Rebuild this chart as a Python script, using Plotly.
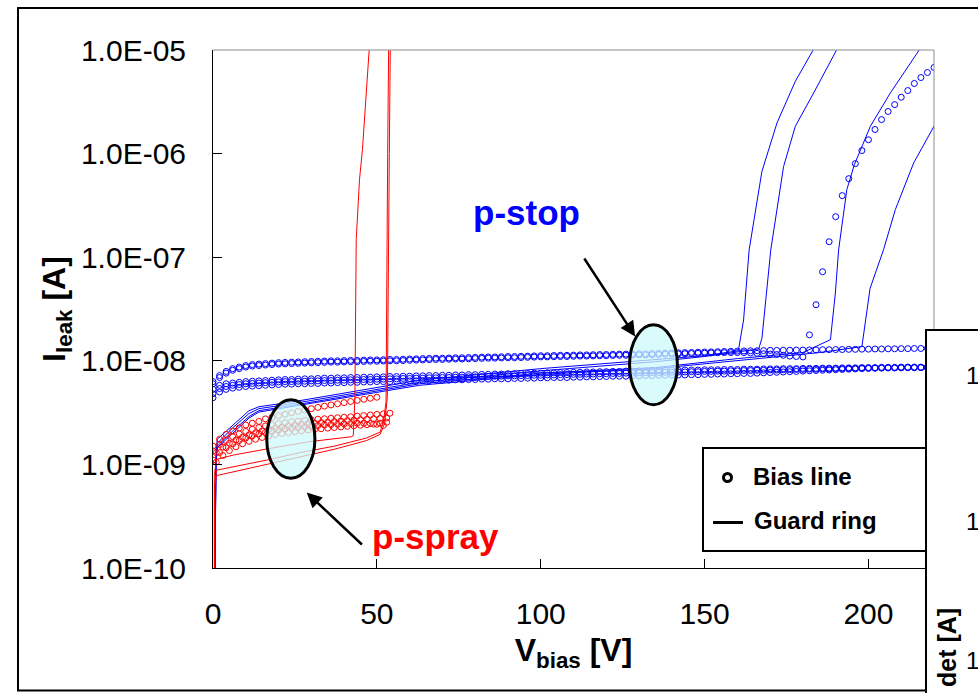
import plotly.graph_objects as go

# ---------------- data ----------------
X_TICKS = [0, 50, 100, 150, 200]
Y_TICKS = [1e-10, 1e-9, 1e-8, 1e-7, 1e-6, 1e-5]
Y_TICK_LABELS = ["1.0E-10", "1.0E-09", "1.0E-08", "1.0E-07", "1.0E-06", "1.0E-05"]

# p-stop bias-line currents (nA), measured every 2 V from 0 to 220 V
V_PSTOP = list(range(0, 221, 2))
PSTOP_BIAS_1 = [6.3, 7.2, 7.9, 8.4, 8.7, 9.0, 9.2, 9.3, 9.4, 9.5,
                9.6, 9.65, 9.7, 9.75, 9.8, 9.85, 9.9, 9.95, 10.0, 10.0,
                10.05, 10.1, 10.1, 10.15, 10.2, 10.2, 10.25, 10.3, 10.3, 10.35,
                10.4, 10.45, 10.5, 10.55, 10.6, 10.6, 10.65, 10.7, 10.7, 10.75,
                10.8, 10.85, 10.9, 10.9, 10.95, 11.0, 11.0, 11.05, 11.1, 11.15,
                11.2, 11.2, 11.25, 11.3, 11.3, 11.35, 11.4, 11.4, 11.45, 11.5,
                11.5, 11.55, 11.6, 11.6, 11.65, 11.7, 11.7, 11.75, 11.8, 11.85,
                11.9, 11.95, 12.0, 12.05, 12.1, 12.15, 12.2, 12.25, 12.3, 12.35,
                12.4, 12.45, 12.5, 12.5, 12.55, 12.6, 12.6, 12.65, 12.65, 12.7,
                12.7, 12.75, 12.75, 12.8, 12.8, 12.85, 12.85, 12.9, 12.9, 12.95,
                12.95, 13.0, 13.0, 13.05, 13.05, 13.1, 13.1, 13.15, 13.15, 13.2, 13.2]
PSTOP_BIAS_2 = [6.0, 6.9, 7.6, 8.1, 8.4, 8.7, 8.9, 9.0, 9.1, 9.2,
                9.3, 9.35, 9.4, 9.45, 9.5, 9.55, 9.6, 9.65, 9.7, 9.7,
                9.75, 9.8, 9.8, 9.85, 9.9, 9.9, 9.95, 10.0, 10.0, 10.05,
                10.1, 10.15, 10.2, 10.25, 10.3, 10.3, 10.35, 10.4, 10.4, 10.45,
                10.5, 10.55, 10.6, 10.6, 10.65, 10.7, 10.7, 10.75, 10.8, 10.85,
                10.9, 10.9, 10.95, 11.0, 11.0, 11.05, 11.1, 11.1, 11.15, 11.2,
                11.2, 11.25, 11.3, 11.3, 11.35, 11.4, 11.4, 11.45, 11.5, 11.55,
                11.6, 11.65, 11.7, 11.75, 11.8, 11.85, 11.9, 11.95, 12.0, 12.0,
                12.0, 12.0, 11.9, 11.8, 11.7, 11.6, 11.5, 11.3, 11.1, 11.0,
                10.9, 17.8, 34.8, 72.4, 141, 246, 393, 573, 800, 1070,
                1360, 1710, 2130, 2550, 2970, 3500, 4060, 4750, 5420, 6060, 6780]
PSTOP_BIAS_3 = [5.3, 5.8, 6.0, 6.1, 6.2, 6.3, 6.35, 6.4, 6.45, 6.5,
                6.55, 6.6, 6.6, 6.65, 6.7, 6.7, 6.75, 6.8, 6.8, 6.85,
                6.85, 6.9, 6.9, 6.95, 6.95, 7.0, 7.0, 7.05, 7.05, 7.1,
                7.1, 7.15, 7.15, 7.2, 7.2, 7.25, 7.25, 7.3, 7.3, 7.35,
                7.35, 7.4, 7.4, 7.45, 7.45, 7.5, 7.5, 7.55, 7.55, 7.6,
                7.6, 7.65, 7.65, 7.7, 7.7, 7.75, 7.75, 7.8, 7.8, 7.85,
                7.85, 7.9, 7.9, 7.95, 7.95, 8.0, 8.0, 8.05, 8.05, 8.1,
                8.1, 8.1, 8.15, 8.15, 8.15, 8.2, 8.2, 8.2, 8.25, 8.25,
                8.25, 8.3, 8.3, 8.3, 8.35, 8.35, 8.35, 8.4, 8.4, 8.4,
                8.45, 8.45, 8.45, 8.5, 8.5, 8.5, 8.55, 8.55, 8.55, 8.6,
                8.6, 8.6, 8.65, 8.65, 8.65, 8.7, 8.7, 8.7, 8.7, 8.75, 8.75]
PSTOP_BIAS_4 = [4.8, 5.4, 5.65, 5.8, 5.9, 6.0, 6.05, 6.1, 6.15, 6.2,
                6.25, 6.3, 6.3, 6.35, 6.35, 6.4, 6.4, 6.45, 6.45, 6.5,
                6.5, 6.55, 6.55, 6.6, 6.6, 6.65, 6.65, 6.7, 6.7, 6.75,
                6.75, 6.8, 6.8, 6.85, 6.85, 6.9, 6.9, 6.95, 6.95, 7.0,
                7.0, 7.05, 7.05, 7.1, 7.1, 7.15, 7.15, 7.2, 7.2, 7.25,
                7.25, 7.3, 7.3, 7.35, 7.35, 7.4, 7.4, 7.45, 7.45, 7.5,
                7.5, 7.55, 7.55, 7.6, 7.6, 7.65, 7.65, 7.7, 7.7, 7.75,
                7.75, 7.8, 7.8, 7.85, 7.85, 7.9, 7.9, 7.95, 7.95, 8.0,
                8.0, 8.05, 8.05, 8.1, 8.1, 8.15, 8.15, 8.2, 8.2, 8.25,
                8.25, 8.3, 8.3, 8.35, 8.35, 8.4, 8.4, 8.45, 8.45, 8.5,
                8.5, 8.5, 8.55, 8.55, 8.55, 8.6, 8.6, 8.6, 8.6, 8.6, 8.6]
PSTOP_BIAS_5 = [4.4, 5.0, 5.3, 5.45, 5.55, 5.65, 5.7, 5.75, 5.8, 5.85,
                5.9, 5.95, 5.95, 6.0, 6.0, 6.05, 6.05, 6.1, 6.1, 6.15,
                6.15, 6.2, 6.2, 6.25, 6.25, 6.3, 6.3, 6.3, 6.35, 6.35,
                6.4, 6.4, 6.45, 6.45, 6.5, 6.5, 6.5, 6.55, 6.55, 6.6,
                6.6, 6.65, 6.65, 6.7, 6.7, 6.7, 6.75, 6.75, 6.8, 6.8,
                6.85, 6.85, 6.9, 6.9, 6.9, 6.95, 6.95, 7.0, 7.0, 7.05,
                7.05, 7.1, 7.1, 7.1, 7.15, 7.15, 7.2, 7.2, 7.25, 7.25,
                7.3, 7.3, 7.3, 7.35, 7.35, 7.4, 7.4, 7.45, 7.45, 7.5,
                7.5, 7.55, 7.55, 7.6, 7.65, 7.7, 7.75, 7.8, 7.85, 7.9,
                7.95, 8.0, 8.05, 8.1, 8.15, 8.2, 8.25, 8.3, 8.35, 8.4,
                8.45, 8.5, 8.5, 8.55, 8.55, 8.55, 8.6, 8.6, 8.6, 8.6, 8.6]

# p-stop guard-ring currents (A)
GR_PSTOP_A_V = [0.6, 0.9, 1.3, 6, 11, 14, 24, 42, 63, 100, 135, 150, 160.3, 161.9, 163.6, 167.5, 172.1, 177.7, 183.8]
GR_PSTOP_A_I = [9e-11, 1.2e-9, 1.75e-9, 2.4e-9, 3.3e-9, 3.6e-9, 4.0e-9, 5.0e-9, 6.5e-9, 8.4e-9, 1.02e-8, 1.12e-8,
                1.25e-8, 2.48e-8, 1.18e-7, 6.75e-7, 1.98e-6, 5.0e-6, 1.09e-5]
GR_PSTOP_B_V = [0.6, 0.9, 1.3, 6, 11, 14, 24, 42, 63, 100, 135, 150, 166.5, 167.5, 170.2, 174.1, 177.7, 183.3, 190.9]
GR_PSTOP_B_I = [9e-11, 1.1e-9, 1.6e-9, 2.25e-9, 3.1e-9, 3.45e-9, 3.85e-9, 4.8e-9, 6.2e-9, 8.0e-9, 9.8e-9, 1.1e-8,
                1.3e-8, 1.65e-8, 1.18e-7, 7.5e-7, 1.84e-6, 3.86e-6, 1.09e-5]
GR_PSTOP_C_V = [0.6, 0.9, 1.3, 6, 11, 14, 24, 42, 63, 100, 135, 160, 180, 188.4, 189.9, 190.9, 193.4, 195.7, 200.6,
                206.7, 216.3]
GR_PSTOP_C_I = [9e-11, 1.05e-9, 1.5e-9, 2.1e-9, 2.9e-9, 3.3e-9, 3.7e-9, 4.6e-9, 6.0e-9, 7.6e-9, 8.6e-9, 1.05e-8,
                1.2e-8, 1.6e-8, 4.5e-8, 1.18e-7, 4.49e-7, 7.83e-7, 1.84e-6, 3.86e-6, 1.09e-5]
GR_PSTOP_D_V = [0.6, 0.9, 1.3, 6, 11, 14, 24, 42, 63, 100, 135, 160, 185, 198, 200.5, 204.6, 208.2, 213.8, 221.4]
GR_PSTOP_D_I = [9e-11, 1.0e-9, 1.45e-9, 2.0e-9, 2.8e-9, 3.2e-9, 3.6e-9, 4.5e-9, 5.8e-9, 7.4e-9, 8.4e-9, 1.0e-8,
                1.2e-8, 1.37e-8, 5e-8, 1.18e-7, 2.88e-7, 8.13e-7, 2.21e-6]

# p-spray bias-line currents (nA)
V_PSPRAY_1 = list(range(0, 51, 2))
PSPRAY_BIAS_1 = [1.5, 1.75, 1.95, 2.1, 2.25, 2.4, 2.5, 2.6, 2.75, 2.85, 2.95, 3.05, 3.15, 3.25, 3.35, 3.45,
                 3.55, 3.65, 3.75, 3.85, 3.95, 4.05, 4.15, 4.25, 4.35, 4.45]
V_PSPRAY_2 = list(range(0, 55, 2))
PSPRAY_BIAS_2 = [1.35, 1.55, 1.7, 1.85, 1.97, 2.08, 2.18, 2.27, 2.35, 2.42, 2.48, 2.53, 2.58, 2.62, 2.66, 2.7,
                 2.73, 2.76, 2.79, 2.82, 2.85, 2.88, 2.92, 2.96, 3.0, 3.04, 3.08, 3.12]
V_PSPRAY_3 = list(range(1, 54, 2))
PSPRAY_BIAS_3 = [1.3, 1.47, 1.6, 1.72, 1.83, 1.93, 2.02, 2.1, 2.17, 2.23, 2.29, 2.34, 2.39, 2.43, 2.47, 2.5,
                 2.53, 2.56, 2.59, 2.62, 2.65, 2.68, 2.7, 2.73, 2.76, 2.78, 2.8]
V_PSPRAY_4 = list(range(0, 53, 2))
PSPRAY_BIAS_4 = [1.1, 1.3, 1.45, 1.58, 1.7, 1.8, 1.89, 1.97, 2.04, 2.1, 2.15, 2.2, 2.24, 2.28, 2.31, 2.34,
                 2.37, 2.4, 2.42, 2.44, 2.46, 2.48, 2.5, 2.5, 2.48, 2.44, 2.38]
V_PSPRAY_5 = list(range(1, 54, 2))
PSPRAY_BIAS_5 = [1.05, 1.22, 1.36, 1.48, 1.58, 1.67, 1.75, 1.82, 1.88, 1.94, 1.99, 2.03, 2.07, 2.11, 2.15, 2.18,
                 2.21, 2.24, 2.27, 2.3, 2.33, 2.36, 2.39, 2.42, 2.45, 2.5, 2.55]

# p-spray guard-ring currents (A)
GR_PSPRAY_A_V = [0.4, 0.4, 1.1, 6.2, 16.4, 29.6, 42.3, 42.8, 43.3, 43.7, 44.7, 45.6, 47.7]
GR_PSPRAY_A_I = [9e-11, 8e-10, 1.12e-9, 1.23e-9, 1.41e-9, 1.66e-9, 1.85e-9, 1.9e-9, 4.4e-9, 1.48e-7, 5.6e-7,
                 1.09e-6, 1.05e-5]
GR_PSPRAY_B_V = [0.5, 0.5, 1.1, 16.4, 26.6, 37.0, 46.9, 51.0, 52.0, 52.8, 53.3, 53.6]
GR_PSPRAY_B_I = [9e-11, 6.5e-10, 8.8e-10, 1.1e-9, 1.3e-9, 1.5e-9, 1.8e-9, 2.05e-9, 2.6e-9, 4.0e-9, 1.0e-6, 1.1e-5]
GR_PSPRAY_C_V = [0.5, 0.5, 1.1, 16.4, 26.6, 37.0, 46.9, 51.0, 52.4, 53.2, 53.8, 54.1]
GR_PSPRAY_C_I = [9e-11, 6e-10, 7.8e-10, 1.0e-9, 1.2e-9, 1.4e-9, 1.7e-9, 1.95e-9, 2.5e-9, 4.5e-9, 1.0e-6, 1.1e-5]

NA = 1e-9  # nA -> A

# ---------------- styling ----------------
BLUE = "#0000FF"
RED = "#FF0000"
FONT = "Arial, 'Liberation Sans', sans-serif"

W, H = 978, 693
PL, PR, PT, PB = 213, 934, 50, 568


def px(x):
    return (x - PL) / (PR - PL)


def py(y):
    return (PB - y) / (PB - PT)


fig = go.Figure()


def bias(v, vals, color):
    fig.add_trace(go.Scatter(
        x=v, y=[a * NA for a in vals], mode="markers", showlegend=False,
        marker=dict(symbol="circle-open", size=6, color=color, line=dict(width=1, color=color))))


def guard(v, i, color):
    fig.add_trace(go.Scatter(x=v, y=i, mode="lines", showlegend=False,
                             line=dict(color=color, width=1)))


for s in [PSTOP_BIAS_1, PSTOP_BIAS_2, PSTOP_BIAS_3, PSTOP_BIAS_4, PSTOP_BIAS_5]:
    bias(V_PSTOP, s, BLUE)
for v, i in [(GR_PSTOP_A_V, GR_PSTOP_A_I), (GR_PSTOP_B_V, GR_PSTOP_B_I),
             (GR_PSTOP_C_V, GR_PSTOP_C_I), (GR_PSTOP_D_V, GR_PSTOP_D_I)]:
    guard(v, i, BLUE)
for v, s in [(V_PSPRAY_1, PSPRAY_BIAS_1), (V_PSPRAY_2, PSPRAY_BIAS_2), (V_PSPRAY_3, PSPRAY_BIAS_3),
             (V_PSPRAY_4, PSPRAY_BIAS_4), (V_PSPRAY_5, PSPRAY_BIAS_5)]:
    bias(v, s, RED)
for v, i in [(GR_PSPRAY_A_V, GR_PSPRAY_A_I), (GR_PSPRAY_B_V, GR_PSPRAY_B_I), (GR_PSPRAY_C_V, GR_PSPRAY_C_I)]:
    guard(v, i, RED)

shapes = []
# plot-area frame (top / right, grey)
shapes.append(dict(type="line", xref="paper", yref="paper", x0=0, x1=1, y0=1, y1=1,
                   line=dict(color="#8c8c8c", width=1)))
shapes.append(dict(type="line", xref="paper", yref="paper", x0=1, x1=1, y0=0, y1=1,
                   line=dict(color="#8c8c8c", width=1)))
# outer chart frame
shapes.append(dict(type="rect", xref="paper", yref="paper", x0=px(18), x1=px(1000), y0=py(690.5), y1=py(8),
                   line=dict(color="black", width=2), layer="below"))
# highlight ellipses
shapes.append(dict(type="circle", xref="x", yref="y", x0=16.4, x1=31.1, y0=7.36e-10, y1=4.2e-9,
                   line=dict(color="black", width=3), fillcolor="rgba(205,250,250,0.75)", layer="above"))
shapes.append(dict(type="circle", xref="x", yref="y", x0=127.1, x1=141.7, y0=3.76e-9, y1=2.23e-8,
                   line=dict(color="black", width=3), fillcolor="rgba(205,250,250,0.75)", layer="above"))
# legend box
shapes.append(dict(type="rect", xref="paper", yref="paper", x0=px(703), x1=px(926), y0=py(551), y1=py(448),
                   line=dict(color="black", width=2), fillcolor="white", layer="above"))
shapes.append(dict(type="circle", xref="paper", yref="paper", x0=px(723.5), x1=px(731.5), y0=py(481.5),
                   y1=py(473.5), line=dict(color="black", width=3), layer="above"))
shapes.append(dict(type="line", xref="paper", yref="paper", x0=px(713), x1=px(743), y0=py(522.5), y1=py(522.5),
                   line=dict(color="black", width=3), layer="above"))
# neighbouring chart overlapping at the right
shapes.append(dict(type="rect", xref="paper", yref="paper", x0=px(926), x1=px(1010), y0=py(720), y1=py(330),
                   line=dict(color="black", width=2), fillcolor="white", layer="above"))

annotations = [
    dict(xref="x", yref="y", x=128.8, y=-7.765, axref="x", ayref="y", ax=113.0, ay=-6.998, text="",
         showarrow=True, arrowhead=2, arrowsize=1.2, arrowwidth=2.5, arrowcolor="black"),
    dict(xref="x", yref="y", x=28.6, y=-9.272, axref="x", ayref="y", ax=45.9, ay=-9.787, text="",
         showarrow=True, arrowhead=2, arrowsize=1.2, arrowwidth=2.5, arrowcolor="black"),
    dict(xref="x", yref="y", x=95.7, y=-6.57, text="<b>p-stop</b>", showarrow=False,
         font=dict(family=FONT, size=35, color=BLUE), xanchor="center", yanchor="middle"),
    dict(xref="x", yref="y", x=67.8, y=-9.70, text="<b>p-spray</b>", showarrow=False,
         font=dict(family=FONT, size=35, color=RED), xanchor="center", yanchor="middle"),
    dict(xref="paper", yref="paper", x=px(751), y=py(476.5), text="<b>Bias line</b>", showarrow=False,
         font=dict(family=FONT, size=24, color="black"), xanchor="left", yanchor="middle"),
    dict(xref="paper", yref="paper", x=px(752), y=py(520), text="<b>Guard ring</b>", showarrow=False,
         font=dict(family=FONT, size=24, color="black"), xanchor="left", yanchor="middle"),
    dict(xref="paper", yref="paper", x=px(964), y=py(375), text="1", showarrow=False,
         font=dict(family=FONT, size=24, color="black"), xanchor="left", yanchor="middle"),
    dict(xref="paper", yref="paper", x=px(964), y=py(521), text="1", showarrow=False,
         font=dict(family=FONT, size=24, color="black"), xanchor="left", yanchor="middle"),
    dict(xref="paper", yref="paper", x=px(964), y=py(660), text="1", showarrow=False,
         font=dict(family=FONT, size=24, color="black"), xanchor="left", yanchor="middle"),
    dict(xref="paper", yref="paper", x=px(947), y=py(648), text="<b>det [A]</b>", showarrow=False,
         textangle=-90, font=dict(family=FONT, size=25, color="black"), xanchor="center", yanchor="middle"),
]

fig.update_layout(
    width=W, height=H,
    margin=dict(l=PL, r=W - PR, t=PT, b=H - PB),
    paper_bgcolor="white", plot_bgcolor="white",
    font=dict(family=FONT, color="black"),
    showlegend=False,
    shapes=shapes, annotations=annotations,
    xaxis=dict(range=[0, 220], tickvals=X_TICKS, ticks="inside", ticklen=9, tickcolor="black",
               showline=True, linecolor="black", linewidth=1, showgrid=False, zeroline=False,
               tickfont=dict(family=FONT, size=30, color="black"), ticklabelstandoff=19,
               title=dict(text="<b>V<sub>bias</sub> [V]</b>", font=dict(family=FONT, size=32, color="black"),
                          standoff=9)),
    yaxis=dict(type="log", range=[-10, -5], tickvals=Y_TICKS, ticktext=Y_TICK_LABELS, ticks="inside",
               ticklen=9, tickcolor="black", showline=True, linecolor="black", linewidth=1,
               showgrid=False, zeroline=False,
               tickfont=dict(family=FONT, size=30, color="black"), ticklabelstandoff=20,
               title=dict(text="<b>I<sub>leak</sub> [A]</b>", font=dict(family=FONT, size=32, color="black"),
                          standoff=5)),
)

fig.write_html("out.html")
